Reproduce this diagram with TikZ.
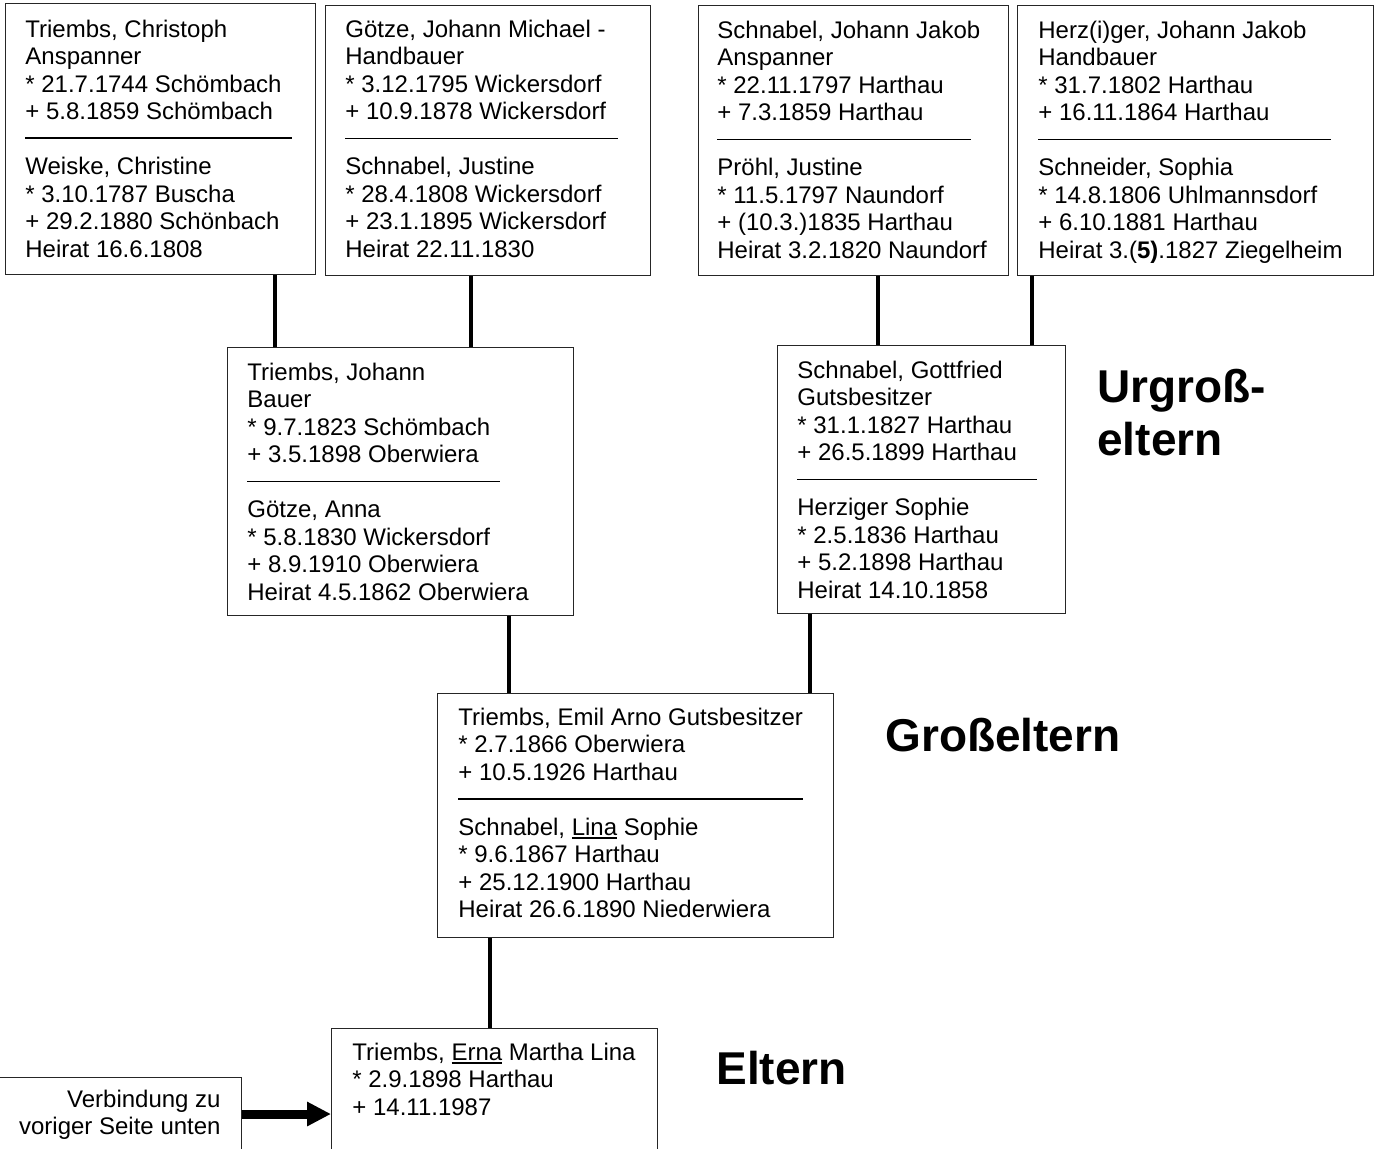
\documentclass[tikz,border=0pt]{standalone}
\usepackage{fontspec}
\setmainfont{Liberation Sans}
\usetikzlibrary{arrows.meta}
\newcommand{\sepl}[1]{\rule[4.05pt]{#1}{0.9pt}}
\newcommand{\fst}{\rule{0pt}{10pt}}
\newcommand{\ulword}[1]{\setbox0\hbox{#1}\rlap{\rule[-1.6pt]{\wd0}{0.75pt}}\box0\relax}
\begin{document}
\begin{tikzpicture}[x=0.5pt,y=-0.5pt,
  box/.style={draw=black!85,line width=0.7pt,rectangle,inner sep=0pt,anchor=north west},
  txt/.style={inner sep=0pt,anchor=north west,align=left,font=\fontsize{12pt}{13.75pt}\selectfont},
  txtr/.style={inner sep=0pt,anchor=north east,align=right,font=\fontsize{12pt}{13.75pt}\selectfont},
  conn/.style={line width=2pt,black},
  arr/.style={line width=4.5pt,black,-{Triangle[length=12pt,width=11.5pt]}},
  bigl/.style={inner sep=0pt,font=\fontsize{23pt}{26.5pt}\selectfont\bfseries}]
\useasboundingbox (0,0) rectangle (1381,1148);
\fill[white] (0,0) rectangle (1381,1148);

% boxes
\node[box,minimum width=155pt,minimum height=135.5pt] (A) at (5,3) {};
\node[box,minimum width=162.5pt,minimum height=135pt] (B) at (325,5) {};
\node[box,minimum width=155pt,minimum height=135pt] (C) at (698,5) {};
\node[box,minimum width=178pt,minimum height=135pt] (D) at (1017,5) {};
\node[box,minimum width=173pt,minimum height=134pt] (E) at (227,347) {};
\node[box,minimum width=144pt,minimum height=134pt] (F) at (777,345) {};
\node[box,minimum width=198pt,minimum height=122pt] (G) at (437,693) {};
\node[box,minimum width=163pt,minimum height=71pt] (H) at (331,1028) {};
\node[box,minimum width=130.5pt,minimum height=46.5pt] (I) at (-20,1077) {};

% texts
\node[txt] (At) at (25,16.7) {\fst Triembs, Christoph\\Anspanner\\* 21.7.1744 Schömbach\\+ 5.8.1859 Schömbach\\\sepl{133.5pt}\\Weiske, Christine\\* 3.10.1787 Buscha\\+ 29.2.1880 Schönbach\\Heirat 16.6.1808};
\node[txt] (Bt) at (345,17) {\fst Götze, Johann Michael -\\Handbauer\\* 3.12.1795 Wickersdorf\\+ 10.9.1878 Wickersdorf\\\sepl{136.5pt}\\Schnabel, Justine\\* 28.4.1808 Wickersdorf\\+ 23.1.1895 Wickersdorf\\Heirat 22.11.1830};
\node[txt] (Ct) at (717,18) {\fst Schnabel, Johann Jakob\\Anspanner\\* 22.11.1797 Harthau\\+ 7.3.1859 Harthau\\\sepl{127pt}\\Pröhl, Justine\\* 11.5.1797 Naundorf\\+ (10.3.)1835 Harthau\\Heirat 3.2.1820 Naundorf};
\node[txt] (Dt) at (1038,18) {\fst Herz(i)ger, Johann Jakob\\Handbauer\\* 31.7.1802 Harthau\\+ 16.11.1864 Harthau\\\sepl{146.5pt}\\Schneider, Sophia\\* 14.8.1806 Uhlmannsdorf\\+ 6.10.1881 Harthau\\Heirat 3.(\textbf{5)}.1827 Ziegelheim};
\node[txt] (Et) at (247,360) {\fst Triembs, Johann\\Bauer\\* 9.7.1823 Schömbach\\+ 3.5.1898 Oberwiera\\\sepl{126.5pt}\\Götze, Anna\\* 5.8.1830 Wickersdorf\\+ 8.9.1910 Oberwiera\\Heirat 4.5.1862 Oberwiera};
\node[txt] (Ft) at (797,358) {\fst Schnabel, Gottfried\\Gutsbesitzer\\* 31.1.1827 Harthau\\+ 26.5.1899 Harthau\\\sepl{120pt}\\Herziger Sophie\\* 2.5.1836 Harthau\\+ 5.2.1898 Harthau\\Heirat 14.10.1858};
\node[txt] (Gt) at (458,705) {\fst Triembs, Emil Arno Gutsbesitzer\\* 2.7.1866 Oberwiera\\+ 10.5.1926 Harthau\\\sepl{172.5pt}\\Schnabel, \ulword{Lina} Sophie\\* 9.6.1867 Harthau\\+ 25.12.1900 Harthau\\Heirat 26.6.1890 Niederwiera};
\node[txt] (Ht) at (352,1040) {\fst Triembs, \ulword{Erna} Martha Lina\\* 2.9.1898 Harthau\\+ 14.11.1987};
\node[txtr] (It) at (221,1087) {\fst Verbindung zu\\voriger Seite unten};

% generation labels
\node[bigl,anchor=north west,align=left] (L1) at (1097,366) {\rule{0pt}{18pt}Urgroß-\\eltern};
\node[bigl,anchor=base west] (L2) at (885,751) {Großeltern};
\node[bigl,anchor=base west] (L3) at (716,1084) {Eltern};

% connector positions
\coordinate (xAE) at (275,0);
\coordinate (xBE) at (471,0);
\coordinate (xCF) at (878,0);
\coordinate (xDF) at (1032,0);
\coordinate (xEG) at (509,0);
\coordinate (xFG) at (810,0);
\coordinate (xGH) at (490,0);
\coordinate (yIH) at (0,1114);

\draw[conn] (A.south -| xAE) -- (E.north -| xAE);
\draw[conn] (B.south -| xBE) -- (E.north -| xBE);
\draw[conn] (C.south -| xCF) -- (F.north -| xCF);
\draw[conn] (D.south -| xDF) -- (F.north -| xDF);
\draw[conn] (E.south -| xEG) -- (G.north -| xEG);
\draw[conn] (F.south -| xFG) -- (G.north -| xFG);
\draw[conn] (G.south -| xGH) -- (H.north -| xGH);
\draw[arr] (I.east |- yIH) -- (H.west |- yIH);
\end{tikzpicture}
\end{document}
